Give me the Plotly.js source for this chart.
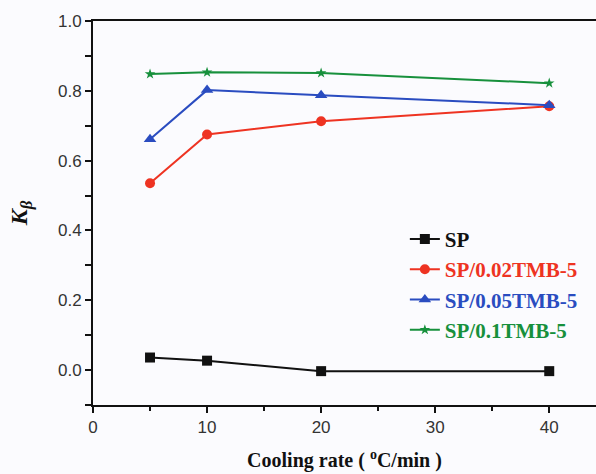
<!DOCTYPE html>
<html>
<head>
<meta charset="utf-8">
<script src="https://cdn.plot.ly/plotly-3.0.1.min.js"></script>
<style>html,body{margin:0;padding:0;background:#fbfbfe;}#chart{width:596px;height:474px;}</style>
</head>
<body>
<div id="chart"></div>
<script>
const coolingRate = [5, 10, 20, 40];
const seriesNames = ["SP", "SP/0.02TMB-5", "SP/0.05TMB-5", "SP/0.1TMB-5"];
const valuesSP = [0.036, 0.027, -0.003, -0.003];
const values002 = [0.535, 0.675, 0.713, 0.756];
const values005 = [0.661, 0.802, 0.787, 0.759];
const values01 = [0.848, 0.853, 0.851, 0.822];
const xTicks = [0, 10, 20, 30, 40];
const yTicks = [0.0, 0.2, 0.4, 0.6, 0.8, 1.0];

const colors = ["#111111", "#ee3322", "#2a4cc0", "#17903c"];
const symbols = ["square", "circle", "triangle-up", "star"];
const sizes = [10, 10, 11, 8];
const allValues = [valuesSP, values002, values005, values01];

const traces = allValues.map((v, i) => ({
  x: coolingRate,
  y: v,
  type: "scatter",
  mode: "lines+markers",
  name: '<b><span style="color:' + colors[i] + '">' + seriesNames[i] + '</span></b>',
  line: {color: colors[i], width: 2},
  marker: {color: colors[i], symbol: symbols[i], size: sizes[i]}
}));

const layout = {
  width: 596, height: 474,
  margin: {l: 93, r: 0, t: 21, b: 69},
  paper_bgcolor: "#fbfbfe",
  plot_bgcolor: "#fbfbfe",
  showlegend: true,
  legend: {
    x: 0.62, y: 0.485, xanchor: "left", yanchor: "top",
    bgcolor: "rgba(0,0,0,0)",
    font: {family: "Liberation Serif, Times New Roman, serif", size: 21, color: "#111"},
    itemwidth: 30, tracegroupgap: 0
  },
  xaxis: {
    range: [0, 44.1],
    tickvals: xTicks,
    ticks: "outside", ticklen: 6, tickwidth: 2, tickcolor: "#111",
    minor: {dtick: 5, tick0: 0, ticks: "outside", ticklen: 4, tickwidth: 2, tickcolor: "#111"},
    showline: true, linecolor: "#111", linewidth: 2, mirror: true,
    showgrid: false, zeroline: false,
    tickfont: {family: "Liberation Sans, Arial, sans-serif", size: 17, color: "#333"},
    title: {text: "<b>Cooling rate ( <sup>o</sup>C/min )</b>", standoff: 17,
      font: {family: "Liberation Serif, Times New Roman, serif", size: 20, color: "#111"}}
  },
  yaxis: {
    range: [-0.1, 1.0],
    tickvals: yTicks,
    ticktext: yTicks.map(v => v.toFixed(1)),
    ticks: "outside", ticklen: 6, tickwidth: 2, tickcolor: "#111",
    minor: {dtick: 0.1, tick0: 0, ticks: "outside", ticklen: 6, tickwidth: 2, tickcolor: "#111"},
    showline: true, linecolor: "#111", linewidth: 2, mirror: false,
    showgrid: false, zeroline: false,
    tickfont: {family: "Liberation Sans, Arial, sans-serif", size: 17, color: "#333"},
    title: {text: "<b><i>K<sub>β</sub></i></b>", standoff: 24,
      font: {family: "Liberation Serif, Times New Roman, serif", size: 24, color: "#111"}}
  }
};

Plotly.newPlot("chart", traces, layout, {displayModeBar: false, staticPlot: true});
</script>
</body>
</html>
